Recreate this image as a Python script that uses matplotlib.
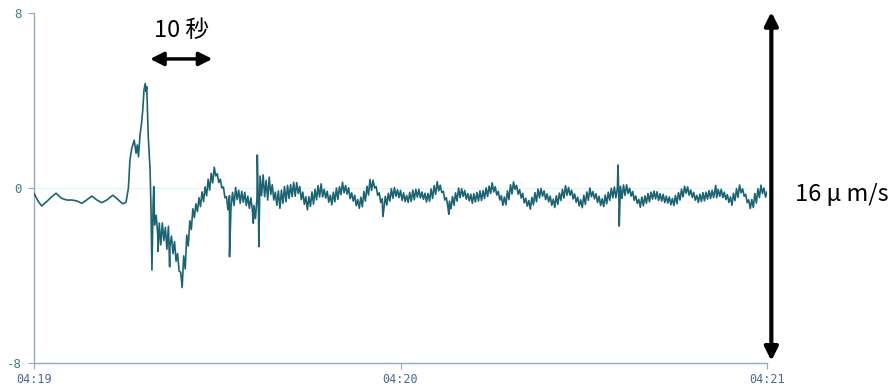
import numpy as np
import matplotlib
matplotlib.use("Agg")
import matplotlib.pyplot as plt

# seconds after 04:19:00, velocity in um/s
# quiet lead-in and first swing
T_EARLY = [0.0, 0.7, 1.26, 2.08, 2.9, 3.6, 4.5, 5.35, 6.2, 7.0, 7.8, 8.6, 9.45,
           10.3, 11.1, 11.9, 12.9, 13.6, 14.5, 15.05, 15.45, 15.7, 16.0, 16.4,
           16.7, 16.9, 17.1, 17.35, 17.6, 17.8, 18.0, 18.2, 18.35, 18.45, 18.7,
           19.0, 19.15, 19.3]
V_EARLY = [-0.24, -0.62, -0.82, -0.62, -0.40, -0.24, -0.47, -0.55, -0.55, -0.59,
           -0.70, -0.55, -0.37, -0.55, -0.67, -0.55, -0.33, -0.49, -0.72, -0.66,
           0.0, 1.28, 1.81, 2.19, 1.59, 1.97, 1.43, 2.42, 2.96, 3.57, 4.48, 4.78,
           4.4, 4.63, 2.35, 0.82, -1.0, -3.75]

# noisy part, every 0.5 s from 19.5 s to 120 s: centre of the band ...
BAND_MID = [
    -1.2, -1.7, -2.1, -2.0, -2.3, -2.2, -2.6, -2.9, -3.4, -4.2,
    -3.4, -2.4, -1.7, -1.15, -0.9, -0.65, -0.4, -0.15, 0.15, 0.45,
    0.75, 0.45, 0.2, -0.2, -0.7, -0.6, -0.5, -0.25, -0.4, -0.4,
    -0.5, -0.65, -0.75, -1.1, -0.8, 0.1, 0.1, -0.1, 0.1,
    -0.2, -0.49, -0.53, -0.4, -0.28, -0.18, -0.12, -0.06, 0.0, -0.23,
    -0.47, -0.7, -0.62, -0.46, -0.3, -0.15, -0.11, -0.26, -0.4, -0.55,
    -0.41, -0.26, -0.12, 0.02, -0.08, -0.24, -0.41, -0.57, -0.73, -0.64,
    -0.38, -0.12, 0.14, 0.18, -0.13, -0.44, -0.75, -0.58, -0.42, -0.25,
    -0.18, -0.26, -0.34, -0.42, -0.5, -0.41, -0.32, -0.24, -0.26, -0.35,
    -0.44, -0.43, -0.26, -0.09, 0.08, -0.04, -0.35, -0.66, -0.78, -0.59,
    -0.41, -0.22, -0.21, -0.31, -0.42, -0.49, -0.45, -0.4, -0.35, -0.3,
    -0.19, -0.08, 0.03, -0.13, -0.35, -0.57, -0.59, -0.33, -0.06, 0.11,
    -0.08, -0.27, -0.46, -0.65, -0.77, -0.6, -0.42, -0.25, -0.2, -0.33,
    -0.45, -0.58, -0.7, -0.55, -0.4, -0.26, -0.11, -0.15, -0.3, -0.46,
    -0.62, -0.72, -0.54, -0.37, -0.2, -0.33, -0.46, -0.59, -0.67, -0.52,
    -0.38, -0.23, -0.2, -0.3, -0.2, -0.1, -0.05, -0.19, -0.36, -0.53,
    -0.7, -0.61, -0.53, -0.44, -0.35, -0.32, -0.37, -0.43, -0.48, -0.53,
    -0.59, -0.64, -0.53, -0.38, -0.23, -0.08, -0.14, -0.26, -0.38, -0.5,
    -0.45, -0.4, -0.35, -0.3, -0.27, -0.24, -0.22, -0.25, -0.36, -0.48,
    -0.6, -0.41, -0.23, -0.04, -0.21, -0.48, -0.74, -0.71, -0.47, -0.24,
    -0.06, -0.21, -0.35,
]
# ... and its half width
BAND_HALF = [
    0.5, 0.45, 0.5, 0.4, 0.5, 0.45, 0.4, 0.45, 0.4, 0.35,
    0.3, 0.25, 0.2, 0.2, 0.18, 0.2, 0.22, 0.2, 0.25, 0.22,
    0.2, 0.2, 0.2, 0.25, 0.3, 0.25, 0.3, 0.28, 0.3, 0.25,
    0.3, 0.28, 0.3, 0.3, 0.35, 0.45, 0.5, 0.45, 0.4,
    0.35, 0.3, 0.4, 0.3, 0.35, 0.3, 0.28, 0.32, 0.25, 0.3,
    0.28, 0.3, 0.22, 0.28, 0.24, 0.26, 0.3, 0.2, 0.25, 0.22,
    0.22, 0.26, 0.18, 0.24, 0.2, 0.25, 0.19, 0.24, 0.2, 0.22,
    0.22, 0.2, 0.25, 0.18, 0.2, 0.22, 0.26, 0.2, 0.18, 0.22,
    0.2, 0.18, 0.23, 0.2, 0.16, 0.21, 0.22, 0.18, 0.2, 0.17,
    0.2, 0.18, 0.22, 0.2, 0.21, 0.17, 0.2, 0.22, 0.18, 0.2,
    0.19, 0.22, 0.18, 0.2, 0.17, 0.21, 0.19, 0.2, 0.22, 0.18,
    0.2, 0.17, 0.21, 0.19, 0.2, 0.22, 0.18, 0.2, 0.21, 0.17,
    0.2, 0.19, 0.22, 0.18, 0.2, 0.17, 0.21, 0.2, 0.18, 0.2,
    0.18, 0.21, 0.19, 0.2, 0.17, 0.2, 0.22, 0.18, 0.2, 0.19,
    0.2, 0.18, 0.21, 0.19, 0.2, 0.17, 0.2, 0.21, 0.18, 0.2,
    0.19, 0.22, 0.25, 0.3, 0.28, 0.24, 0.2, 0.18, 0.2, 0.17,
    0.18, 0.2, 0.17, 0.19, 0.16, 0.18, 0.2, 0.17, 0.19, 0.16,
    0.18, 0.16, 0.19, 0.17, 0.18, 0.16, 0.19, 0.17, 0.18, 0.16,
    0.17, 0.19, 0.16, 0.18, 0.17, 0.2, 0.16, 0.19, 0.17, 0.18,
    0.19, 0.17, 0.2, 0.18, 0.17, 0.19, 0.2, 0.18, 0.22, 0.2,
    0.19, 0.21, 0.18,
]
# isolated spikes sticking out of the band
SPIKE_T = [19.6, 20.3, 22.2, 32.0, 35.9, 36.55, 36.8, 57.1, 67.9, 95.6, 95.8, 111.6]
SPIKE_V = [0.06, -2.9, -3.6, -3.14, -1.61, 1.51, -2.68, -1.3, -1.2, 1.05, -1.74, 0.12]

X_TICKS = [0, 60, 120]
X_LABELS = ["04:19", "04:20", "04:21"]
Y_TICKS = [-8, 0, 8]
Y_LABELS = ["-8", "0", "8"]

# band drawn min/max style: top and bottom alternate every 0.25 s
mid = np.array(BAND_MID)
half = np.array(BAND_HALF)
tb = 19.5 + 0.5 * np.arange(len(mid))
t_band = np.column_stack([tb, tb + 0.25]).ravel()
v_band = np.column_stack([mid + half, mid - half]).ravel()

t = np.concatenate([T_EARLY, t_band, SPIKE_T])
v = np.concatenate([V_EARLY, v_band, SPIKE_V])
order = np.argsort(t, kind='stable')
t, v = t[order], v[order]

fig = plt.figure(figsize=(8.91, 3.87), dpi=100)
ax = fig.add_axes([0.0382, 0.062, 0.8227, 0.9044])

ax.axhline(0, color='#dff6f6', lw=0.8, zorder=1)
ax.plot(t, v, color='#1d6472', lw=1.2, zorder=3)

ax.set_xlim(0, 120)
ax.set_ylim(-8, 8)
ax.set_xticks(X_TICKS)
ax.set_xticklabels(X_LABELS, family='DejaVu Sans Mono', fontsize=8.5, color='#4f6797')
ax.set_yticks(Y_TICKS)
ax.set_yticklabels(Y_LABELS, family='DejaVu Sans Mono', fontsize=9, color='#3f7f86')
ax.tick_params(axis='both', length=4, width=0.8, color='#9aa6c8')
ax.tick_params(axis='x', pad=3)
ax.tick_params(axis='y', pad=5)

for side in ['top', 'right']:
    ax.spines[side].set_visible(False)
for side in ['left', 'bottom']:
    ax.spines[side].set_color('#9aa6c8')
    ax.spines[side].set_linewidth(1.0)

jp = ['Noto Sans CJK JP', 'DejaVu Sans']

# 10 s scale bar
ax.annotate('', xy=(19.0, 5.9), xytext=(29.2, 5.9),
            arrowprops=dict(arrowstyle='<|-|>', color='black', lw=2.5,
                            mutation_scale=20, shrinkA=0, shrinkB=0),
            annotation_clip=False)
ax.text(24.1, 7.2, '10 秒', ha='center', va='center', fontsize=17, family=jp)

# 16 um/s scale bar
ax.annotate('', xy=(120.7, 8.05), xytext=(120.7, -7.9),
            arrowprops=dict(arrowstyle='<|-|>', color='black', lw=3,
                            mutation_scale=20, shrinkA=0, shrinkB=0),
            annotation_clip=False)
ax.text(124.5, -0.3, '16 μ m/s', ha='left', va='center', fontsize=17, family=jp)

fig.savefig('out.png', dpi=100)
plt.close(fig)
